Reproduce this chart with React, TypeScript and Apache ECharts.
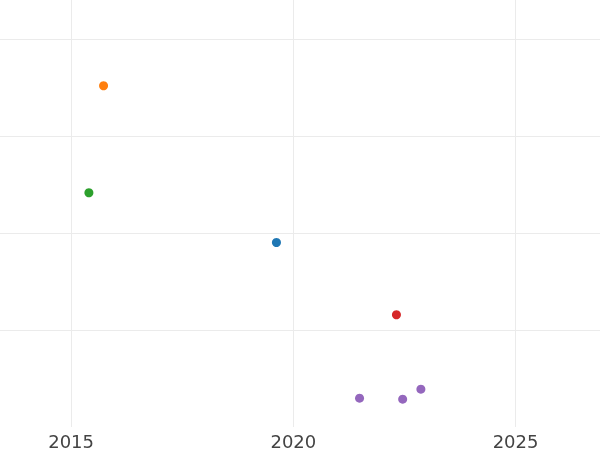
import React, { useEffect, useRef } from "react";
import * as echarts from "echarts";

const colors = ["#1f77b4", "#ff7f0e", "#2ca02c", "#d62728", "#9467bd"];
const blueX = [2019.62];
const blueY = [1.902];
const orangeX = [2015.73];
const orangeY = [3.518];
const greenX = [2015.4];
const greenY = [2.415];
const redX = [2022.32];
const redY = [1.157];
const purpleX = [2021.49, 2022.46, 2022.87];
const purpleY = [0.297, 0.287, 0.39];

const groups = [
  [blueX, blueY],
  [orangeX, orangeY],
  [greenX, greenY],
  [redX, redY],
  [purpleX, purpleY],
];

export default function App() {
  const ref = useRef<HTMLDivElement>(null);
  useEffect(() => {
    const chart = echarts.init(ref.current!, null, { renderer: "svg" });
    chart.setOption({
      animation: false,
      grid: { left: 0, right: 0, top: 0, bottom: 23, containLabel: false },
      xAxis: {
        type: "value",
        min: 2013.4,
        max: 2026.9,
        splitNumber: 3,
        axisLine: { show: false },
        axisTick: { show: false },
        axisLabel: {
          showMinLabel: false,
          showMaxLabel: false,
          formatter: (v: number) => String(v),
          fontFamily: "DejaVu Sans",
          fontSize: 18,
          color: "#444444",
          margin: 5,
        },
        splitLine: {
          show: true,
          showMinLine: false,
          showMaxLine: false,
          lineStyle: { color: "#ebebeb", width: 1 },
        },
      },
      yAxis: {
        type: "value",
        min: 0,
        max: 4.402,
        interval: 1,
        axisLine: { show: false },
        axisTick: { show: false },
        axisLabel: { show: false },
        splitLine: {
          show: true,
          showMinLine: false,
          showMaxLine: false,
          lineStyle: { color: "#ebebeb", width: 1 },
        },
      },
      series: groups.map(([xs, ys], i) => ({
        type: "scatter",
        symbolSize: 9,
        itemStyle: { color: colors[i], opacity: 1 },
        data: xs.map((x, j) => [x, ys[j]]),
      })),
    });
    return () => chart.dispose();
  }, []);
  return <div ref={ref} style={{ width: 600, height: 450, position: "fixed", left: 0, top: 0 }} />;
}
